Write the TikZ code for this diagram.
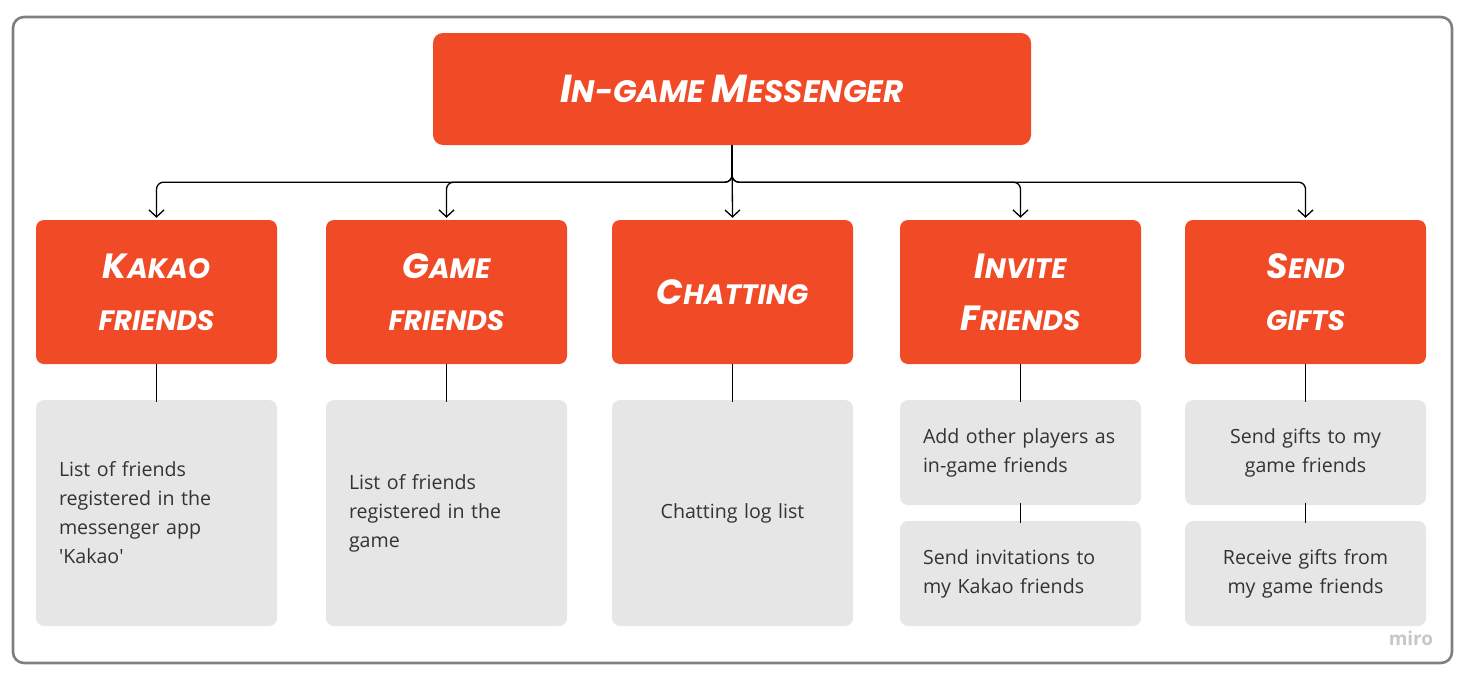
\documentclass[tikz,border=0pt]{standalone}
\usepackage{fontspec}
\setmainfont{Open Sans}
\newfontfamily\hand{Poppins}
\usetikzlibrary{arrows.meta}
\definecolor{redbox}{HTML}{F04A27}
\definecolor{graybox}{HTML}{E6E6E6}
\definecolor{frame}{HTML}{7F7F7F}
\definecolor{bodytext}{HTML}{333333}
\newcommand\bigc[1]{{\fontsize{35}{35}\selectfont #1}}
\newcommand\bigt[1]{{\fontsize{39}{39}\selectfont #1}}
\tikzset{
  redbox/.style={fill=redbox, rounded corners=8pt, minimum width=241pt, minimum height=144pt,
    text=white, align=center, font=\hand\bfseries\itshape\fontsize{28}{52}\selectfont, inner sep=0pt},
  topbox/.style={redbox, minimum width=598pt, minimum height=112pt, rounded corners=10pt,
    font=\hand\bfseries\itshape\fontsize{31}{52}\selectfont},
  graybox/.style={fill=graybox, rounded corners=8pt, minimum width=241pt, text width=195pt,
    inner xsep=23pt, inner ysep=0pt, text=bodytext, font=\fontsize{19.6}{29}\selectfont},
  lbox/.style={graybox, align=left},
  cbox/.style={graybox, align=center},
  link/.style={line width=1.3pt, draw=black},
  arr/.style={link, rounded corners=7pt, -{Straight Barb[length=7pt,width=15pt,line width=1.3pt]}},
}
\begin{document}
\begin{tikzpicture}[x=1pt,y=-1pt]
\useasboundingbox (0,0) rectangle (1469,680);
\draw[frame, line width=2.6pt, rounded corners=11pt] (13,17) rectangle (1452,663);

\node[topbox] (top) at (732,89) {\bigt{I}N-GAME \bigt{M}ESSENGER};

\node[redbox] (kakao) at (156.5,292) {\bigc{K}AKAO\\FRIENDS};
\node[redbox] (game) at (446.5,292) {\bigc{G}AME\\FRIENDS};
\node[redbox] (chat) at (732.5,292) {\bigc{C}HATTING};
\node[redbox] (invite) at (1020.5,292) {\bigc{I}NVITE\\\bigc{F}RIENDS};
\node[redbox] (gifts) at (1305.5,292) {\bigc{S}END\\GIFTS};

\foreach \n in {kakao,game,invite,gifts}
  \draw[arr] (top.south) -- ++(0,37) -| ([yshift=2pt]\n.north);
\draw[arr] (top.south) -- ([yshift=2pt]chat.north);

\node[lbox, minimum height=226pt] (kakaod) at (156.5,513) {List of friends\\registered in the\\messenger app\\\textquotesingle Kakao\textquotesingle};
\node[lbox, minimum height=226pt] (gamed) at (446.5,513) {List of friends\\registered in the\\game};
\node[cbox, minimum height=226pt] (chatd) at (732.5,513) {Chatting log list};
\node[lbox, minimum height=105pt] (invitea) at (1020.5,452.5) {Add other players as\\in-game friends};
\node[lbox, minimum height=105pt] (inviteb) at (1020.5,573.5) {Send invitations to\\my Kakao friends};
\node[cbox, minimum height=105pt] (giftsa) at (1305.5,452.5) {Send gifts to my\\game friends};
\node[cbox, minimum height=105pt] (giftsb) at (1305.5,573.5) {Receive gifts from\\my game friends};

\draw[link] (kakao.south) -- ([yshift=-2pt]kakaod.north);
\draw[link] (game.south) -- ([yshift=-2pt]gamed.north);
\draw[link] (chat.south) -- ([yshift=-2pt]chatd.north);
\draw[link] (invite.south) -- ([yshift=-2pt]invitea.north);
\draw[link] (gifts.south) -- ([yshift=-2pt]giftsa.north);
\draw[link] ([yshift=2pt]invitea.south) -- ([yshift=-2pt]inviteb.north);
\draw[link] ([yshift=2pt]giftsa.south) -- ([yshift=-2pt]giftsb.north);

\node[text=black!22, font=\bfseries\fontsize{19}{19}\selectfont, inner sep=0pt] (miro) at (1411,638) {miro};
\end{tikzpicture}
\end{document}
